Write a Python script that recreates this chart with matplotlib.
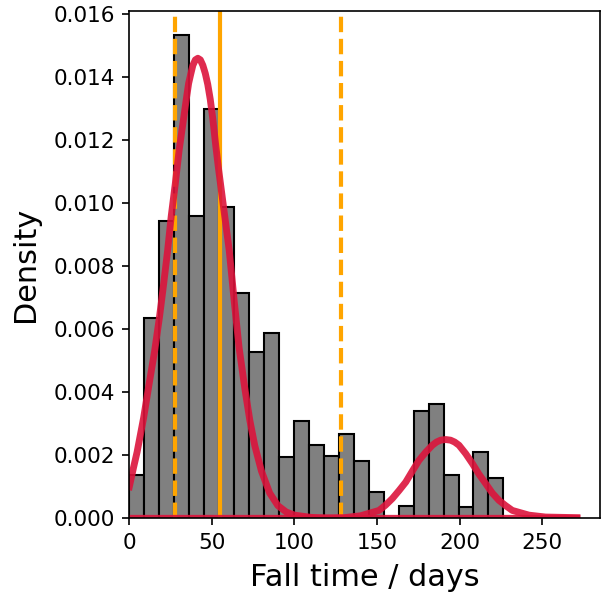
import numpy as np
import matplotlib
matplotlib.use("Agg")
import matplotlib.pyplot as plt

# histogram of fall times (density), bins of ~9.06 days starting at 0
bin_edges = np.linspace(0.0, 226.5, 26)
densities = [0.00138, 0.00637, 0.00942, 0.01534, 0.00959, 0.01300, 0.00988,
             0.00715, 0.00528, 0.00587, 0.00195, 0.00308, 0.00233, 0.00198,
             0.00266, 0.00182, 0.00082, 0.0, 0.00039, 0.00339, 0.00362,
             0.00137, 0.00036, 0.00211, 0.00129]

# first fitted component
comp1_x = [0, 2.5, 4.7, 8.7, 12.1, 15.3, 18.3, 20.7, 23.2, 25.4, 27.8, 30.2,
           32.9, 34.5, 35.9, 37.2, 38.5, 40, 41.5, 43, 44.5, 46, 47.5, 49,
           50.5, 52.4, 54, 56.5, 60.5, 63.5, 66.5, 70, 73, 76, 80, 85, 90,
           95, 100, 110, 120, 271]
comp1_y = [0.0010, 0.0016, 0.0021, 0.0032, 0.0043, 0.0053, 0.0064, 0.0074,
           0.0085, 0.0096, 0.0106, 0.0117, 0.0127, 0.0133, 0.0138, 0.0141,
           0.01438, 0.01455, 0.0146, 0.01455, 0.01438, 0.01412, 0.01377,
           0.0133, 0.0127, 0.0118, 0.0111, 0.0101, 0.0085, 0.0069, 0.0054,
           0.0041, 0.0031, 0.0023, 0.0015, 0.0008, 0.0004, 0.0002, 0.0001,
           0.00003, 0.0, 0.0]

# second fitted component
comp2_x = [0, 100, 130, 140, 151.2, 155.2, 159.3, 163.3, 167.4, 171.4, 175.4,
           179.5, 183.5, 186, 188.5, 191.6, 194.5, 197, 199.6, 203.7, 207.7,
           211.7, 215.8, 219.8, 223.8, 227.9, 231.9, 242, 252, 271]
comp2_y = [0.0, 0.0, 0.00002, 0.00008, 0.00025, 0.00042, 0.00063, 0.00088,
           0.00115, 0.0015, 0.00184, 0.0021, 0.00232, 0.00242, 0.00248,
           0.0025, 0.00248, 0.00242, 0.00232, 0.00205, 0.00174, 0.0014,
           0.0011, 0.0008, 0.00057, 0.0004, 0.00025, 0.0001, 0.00004, 0.00002]

# vertical markers: dashed at the outer values, solid at the middle one
marker_dashed = [27.8, 128.0]
marker_solid = [54.7]

yticks = [0.000, 0.002, 0.004, 0.006, 0.008, 0.010, 0.012, 0.014, 0.016]
xticks = [0, 50, 100, 150, 200, 250]


def main() -> None:
    fig = plt.figure(figsize=(612 / 150, 595 / 150), dpi=150)
    ax = fig.add_axes([0.2113, 0.1289, 0.9804 - 0.2113, 0.9815 - 0.1289])

    widths = np.diff(bin_edges)
    ax.bar(bin_edges[:-1], densities, width=widths, align='edge',
           color='grey', edgecolor='black', linewidth=1.0)

    for x in marker_dashed:
        ax.axvline(x, color='orange', linestyle='--', linewidth=2)
    for x in marker_solid:
        ax.axvline(x, color='orange', linestyle='-', linewidth=2)

    ax.plot(comp1_x, comp1_y, color='crimson', linewidth=3.3, alpha=0.9,
            solid_joinstyle='round')
    ax.plot(comp2_x, comp2_y, color='crimson', linewidth=3.3, alpha=0.9,
            solid_joinstyle='round')

    ax.set_xlim(0, 285)
    ax.set_ylim(0, 0.0161)
    ax.set_xticks(xticks)
    ax.set_yticks(yticks)
    ax.set_yticklabels([f"{v:.3f}" for v in yticks])
    ax.tick_params(labelsize=10.3)
    ax.set_xlabel("Fall time / days", fontsize=14.5, labelpad=5)
    ax.set_ylabel("Density", fontsize=14.5, labelpad=6.5)

    fig.savefig("out.png", dpi=150)


if __name__ == "__main__":
    main()
